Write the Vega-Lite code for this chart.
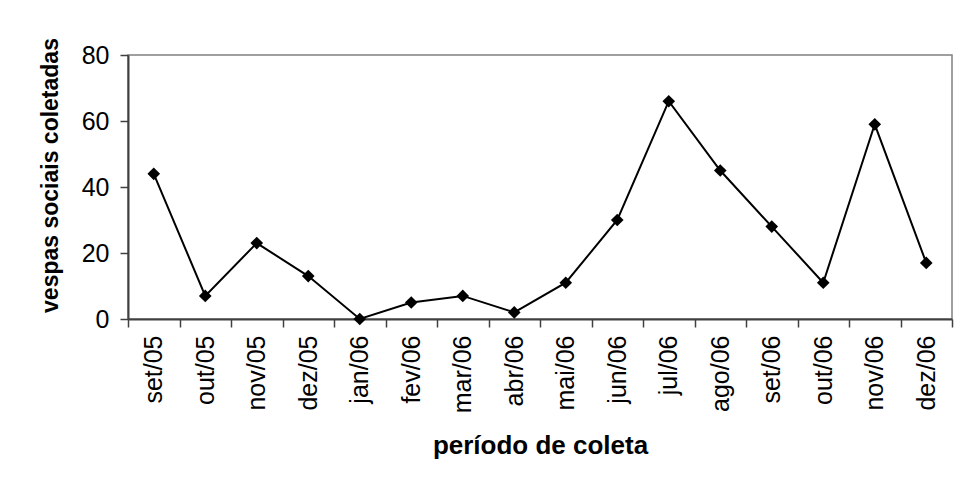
{
  "$schema": "https://vega.github.io/schema/vega-lite/v6.json",
  "width": 824,
  "height": 264,
  "autosize": {"type": "none"},
  "padding": {"left": 128, "top": 55, "right": 6, "bottom": 163},
  "background": "white",
  "config": {
    "font": "Liberation Sans",
    "view": {"stroke": "#808080", "strokeWidth": 1.5}
  },
  "data": {
    "values": [
      {"periodo": "set/05", "vespas": 44},
      {"periodo": "out/05", "vespas": 7},
      {"periodo": "nov/05", "vespas": 23},
      {"periodo": "dez/05", "vespas": 13},
      {"periodo": "jan/06", "vespas": 0},
      {"periodo": "fev/06", "vespas": 5},
      {"periodo": "mar/06", "vespas": 7},
      {"periodo": "abr/06", "vespas": 2},
      {"periodo": "mai/06", "vespas": 11},
      {"periodo": "jun/06", "vespas": 30},
      {"periodo": "jul/06", "vespas": 66},
      {"periodo": "ago/06", "vespas": 45},
      {"periodo": "set/06", "vespas": 28},
      {"periodo": "out/06", "vespas": 11},
      {"periodo": "nov/06", "vespas": 59},
      {"periodo": "dez/06", "vespas": 17}
    ]
  },
  "encoding": {
    "x": {
      "field": "periodo",
      "type": "ordinal",
      "sort": null,
      "scale": {"type": "band", "paddingInner": 0, "paddingOuter": 0},
      "axis": {
        "title": "período de coleta",
        "titleFont": "Liberation Sans",
        "titleFontSize": 26,
        "titleFontWeight": "bold",
        "titleColor": "black",
        "titlePadding": 20,
        "labelAngle": -90,
        "labelFontSize": 25,
        "labelColor": "black",
        "labelPadding": 8,
        "labelAlign": "right",
        "labelBaseline": "middle",
        "tickBand": "extent",
        "tickSize": 8,
        "tickColor": "#404040",
        "tickWidth": 1.5,
        "domainColor": "#404040",
        "domainWidth": 2,
        "grid": false
      }
    },
    "y": {
      "field": "vespas",
      "type": "quantitative",
      "scale": {"domain": [0, 80], "nice": false},
      "axis": {
        "title": "vespas sociais coletadas",
        "titleFont": "Liberation Sans",
        "titleFontSize": 23,
        "titleFontWeight": "bold",
        "titleColor": "black",
        "titlePadding": 19,
        "titleY": 120,
        "values": [0, 20, 40, 60, 80],
        "labelFontSize": 25,
        "labelColor": "black",
        "labelPadding": 11,
        "tickSize": 8,
        "tickColor": "#404040",
        "tickWidth": 1.5,
        "domainColor": "#404040",
        "domainWidth": 2,
        "grid": false
      }
    }
  },
  "layer": [
    {"mark": {"type": "line", "color": "black", "strokeWidth": 2}},
    {"mark": {"type": "point", "shape": "diamond", "filled": true, "color": "black", "size": 160, "opacity": 1}}
  ]
}
